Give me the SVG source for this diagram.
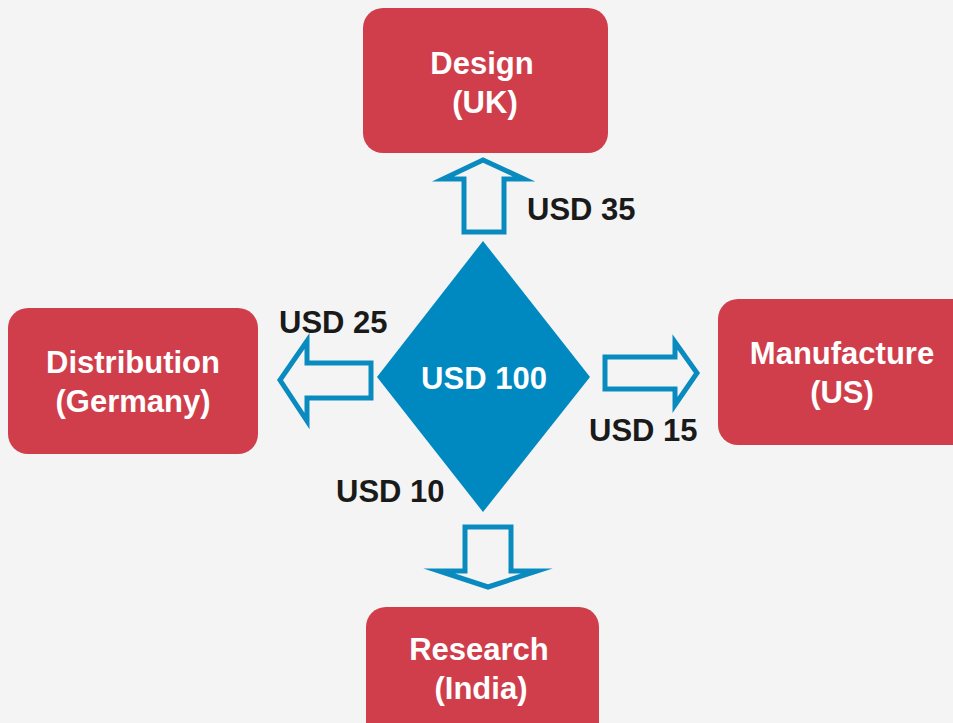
<svg xmlns="http://www.w3.org/2000/svg" width="953" height="723" viewBox="0 0 953 723">
<style>
.box{fill:#d03e4b}
.lbl{font-family:"Liberation Sans",Arial,sans-serif;font-weight:bold;font-size:31px;fill:#fff;text-anchor:middle}
.val{font-family:"Liberation Sans",Arial,sans-serif;font-weight:bold;font-size:31px;fill:#1a1a1a}
.arr{fill:none;stroke:#0a8bbf;stroke-width:5;stroke-linejoin:miter;stroke-miterlimit:10}
</style>
<rect width="953" height="723" fill="#f4f4f4"/>
<g id="design"><rect class="box" x="363" y="8" width="245" height="145" rx="20"/><text class="lbl" x="482" y="74">Design</text><text class="lbl" x="485" y="113">(UK)</text></g>
<g id="distribution"><rect class="box" x="8" y="308" width="250" height="146" rx="20"/><text class="lbl" x="133" y="373">Distribution</text><text class="lbl" x="133" y="412">(Germany)</text></g>
<g id="manufacture"><rect class="box" x="718" y="299" width="260" height="146" rx="20"/><text class="lbl" x="842" y="364">Manufacture</text><text class="lbl" x="842" y="403">(US)</text></g>
<g id="research"><rect class="box" x="366" y="607" width="233" height="140" rx="20"/><text class="lbl" x="479" y="660">Research</text><text class="lbl" x="481" y="699">(India)</text></g>
<g id="center"><polygon points="483,241 590,377 483,512 377,377" fill="#0089c0"/><text class="lbl" x="484" y="389">USD 100</text></g>
<g id="connectors">
<polygon class="arr" points="464,232 464,179 443,179 483,160 524,179 504,179 504,232"/>
<polygon class="arr" points="371,363 307,363 307,341 280,380 307,421 307,398 371,398"/>
<polygon class="arr" points="605,357 675,357 675,342 697,373 675,405 675,389 605,389"/>
<polygon class="arr" points="465,527 511,527 511,571 537,571 488,587 439,571 465,571"/>
</g>
<g id="values">
<text class="val" x="527" y="220">USD 35</text>
<text class="val" x="279" y="333">USD 25</text>
<text class="val" x="589" y="441">USD 15</text>
<text class="val" x="336" y="502">USD 10</text>
</g>
</svg>
